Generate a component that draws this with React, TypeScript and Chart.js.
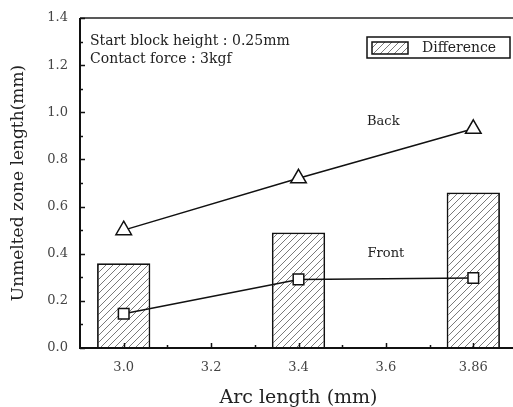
import { useEffect, useRef } from "react";
import { Chart, registerables } from "chart.js";

Chart.register(...registerables);

const categories = ["3.0", "3.2", "3.4", "3.6", "3.86"];
const differenceValues = [0.36, null, 0.49, null, 0.66];
const backValues = [0.5, null, 0.72, null, 0.93];
const frontValues = [0.145, null, 0.291, null, 0.297];
const yMin = 0;
const yMax = 1.4;
const yStep = 0.2;
const noteLines = ["Start block height : 0.25mm", "Contact force : 3kgf"];
const seriesNames = { back: "Back", front: "Front", diff: "Difference" };
const xTitle = "Arc length (mm)";
const yTitle = "Unmelted zone length(mm)";

const FONT = "'DejaVu Serif', 'Liberation Serif', serif";

function makeHatch(): CanvasPattern | string {
  const c = document.createElement("canvas");
  const s = 7;
  c.width = s;
  c.height = s;
  const g = c.getContext("2d");
  if (!g) return "#fff";
  g.fillStyle = "#ffffff";
  g.fillRect(0, 0, s, s);
  g.strokeStyle = "#7a7a7a";
  g.lineWidth = 1;
  g.beginPath();
  g.moveTo(0, s);
  g.lineTo(s, 0);
  g.moveTo(-1, 1);
  g.lineTo(1, -1);
  g.moveTo(s - 1, s + 1);
  g.lineTo(s + 1, s - 1);
  g.stroke();
  const p = g.createPattern(c, "repeat");
  return p || "#fff";
}

export default function App() {
  const ref = useRef<HTMLCanvasElement | null>(null);

  useEffect(() => {
    if (!ref.current) return;
    const hatch = makeHatch();

    const decor = {
      id: "decor",
      afterDatasetsDraw(chart: any) {
        const { ctx, chartArea, scales } = chart;
        const xs = scales.x;
        const ys = scales.y;
        const { left, right, top, bottom } = chartArea;
        ctx.save();
        // frame
        ctx.strokeStyle = "#222";
        ctx.lineWidth = 1.5;
        ctx.beginPath();
        ctx.moveTo(left, top);
        ctx.lineTo(right, top);
        ctx.stroke();
        ctx.strokeStyle = "#111";
        ctx.lineWidth = 2;
        ctx.beginPath();
        ctx.moveTo(left, top);
        ctx.lineTo(left, bottom);
        ctx.lineTo(right, bottom);
        ctx.stroke();
        // y ticks
        ctx.lineWidth = 1.5;
        for (let i = 0; i <= Math.round((yMax - yMin) / (yStep / 2)); i++) {
          const v = yMin + (i * yStep) / 2;
          const y = Math.round(ys.getPixelForValue(v)) + 0.5;
          const len = i % 2 === 0 ? 5 : 3;
          ctx.beginPath();
          ctx.moveTo(left, y);
          ctx.lineTo(left + len, y);
          ctx.stroke();
        }
        // x ticks
        const n = categories.length;
        const sp = xs.getPixelForValue(1) - xs.getPixelForValue(0);
        for (let i = 0; i < n; i++) {
          const x = Math.round(xs.getPixelForValue(i)) + 0.5;
          ctx.beginPath();
          ctx.moveTo(x, bottom);
          ctx.lineTo(x, bottom - 5);
          ctx.stroke();
          const xm = Math.round(xs.getPixelForValue(i) + sp / 2) + 0.5;
          ctx.beginPath();
          ctx.moveTo(xm, bottom);
          ctx.lineTo(xm, bottom - 3);
          ctx.stroke();
        }
        // notes
        ctx.fillStyle = "#222";
        ctx.font = `14px ${FONT}`;
        ctx.textBaseline = "middle";
        ctx.textAlign = "left";
        noteLines.forEach((t, i) => ctx.fillText(t, left + 10, top + 23 + i * 18));
        // series labels
        ctx.font = `13px ${FONT}`;
        ctx.textAlign = "center";
        ctx.fillText(seriesNames.back, xs.getPixelForValue(2.97), ys.getPixelForValue(0.96));
        ctx.fillText(seriesNames.front, xs.getPixelForValue(3.0), ys.getPixelForValue(0.4));
        // legend
        const lx = 367, ly = 37, lw = 143, lh = 21;
        ctx.fillStyle = "#fff";
        ctx.fillRect(lx, ly, lw, lh);
        ctx.strokeStyle = "#111";
        ctx.lineWidth = 1.5;
        ctx.strokeRect(lx, ly, lw, lh);
        ctx.fillStyle = hatch as any;
        ctx.fillRect(lx + 5, ly + 5, 36, 12);
        ctx.strokeRect(lx + 5, ly + 5, 36, 12);
        ctx.fillStyle = "#222";
        ctx.font = `14px ${FONT}`;
        ctx.textAlign = "left";
        ctx.fillText(seriesNames.diff, lx + 55, ly + lh / 2 + 1);
        ctx.restore();
      },
    };

    const chart = new Chart(ref.current, {
      type: "bar",
      data: {
        labels: categories,
        datasets: [
          {
            type: "line",
            label: seriesNames.back,
            data: backValues,
            borderColor: "#111",
            borderWidth: 1.5,
            backgroundColor: "#fff",
            pointStyle: "triangle",
            pointRadius: 9,
            pointBorderWidth: 1.5,
            pointBackgroundColor: "#fff",
            pointBorderColor: "#111",
            spanGaps: true,
            order: 1,
          } as any,
          {
            type: "line",
            label: seriesNames.front,
            data: frontValues,
            borderColor: "#111",
            borderWidth: 1.5,
            backgroundColor: "#fff",
            pointStyle: "rect",
            pointRadius: 7.5,
            pointBorderWidth: 1.5,
            pointBackgroundColor: "#fff",
            pointBorderColor: "#111",
            spanGaps: true,
            order: 1,
          } as any,
          {
            type: "bar",
            label: seriesNames.diff,
            data: differenceValues,
            backgroundColor: hatch as any,
            borderColor: "#111",
            borderWidth: 1.8,
            categoryPercentage: 1,
            barPercentage: 0.61,
            order: 2,
          } as any,
        ],
      },
      options: {
        animation: false,
        responsive: true,
        maintainAspectRatio: false,
        layout: { autoPadding: false, padding: { top: 18, left: 0, right: 0, bottom: 0 } },
        plugins: { legend: { display: false }, tooltip: { enabled: false } },
        scales: {
          x: {
            type: "category",
            offset: true,
            grid: { display: false, drawTicks: false },
            border: { display: false },
            ticks: { color: "#444", font: { family: FONT, size: 13 }, padding: 12 },
            title: {
              display: true,
              text: xTitle,
              color: "#222",
              font: { family: FONT, size: 19 },
              padding: { top: 0, bottom: -2 },
            },
            afterFit(s: any) {
              s.height = 59;
              s.paddingLeft = 0;
              s.paddingRight = 0;
            },
          },
          y: {
            min: yMin,
            max: yMax,
            grid: { display: false, drawTicks: false },
            border: { display: false },
            ticks: {
              stepSize: yStep,
              color: "#444",
              font: { family: FONT, size: 13 },
              padding: 12,
              callback: (v: any) => Number(v).toFixed(1),
            },
            title: {
              display: true,
              text: yTitle,
              color: "#222",
              font: { family: FONT, size: 17 },
              padding: { top: 8, bottom: 0 },
            },
            afterFit(s: any) {
              s.width = 80;
              s.paddingTop = 0;
              s.paddingBottom = 0;
            },
          },
        },
      },
      plugins: [decor],
    });
    return () => chart.destroy();
  }, []);

  return (
    <div style={{ position: "absolute", left: 0, top: 0, width: 513, height: 407, overflow: "hidden", background: "#fff" }}>
      <div style={{ position: "relative", width: 517, height: 407 }}>
        <canvas ref={ref} />
      </div>
    </div>
  );
}
